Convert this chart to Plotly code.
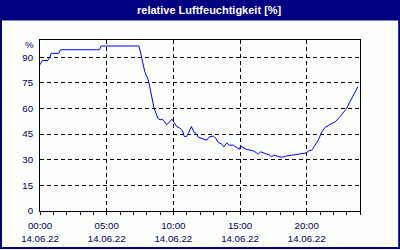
import plotly.graph_objects as go

# ---- data ----
day = "2022-06-14"
times = ["00:00", "00:05", "00:10", "00:35", "00:45", "00:50", "01:25", "01:32", "04:28", "04:35",
         "07:25", "07:33", "07:39", "07:45", "07:51", "08:00", "08:07", "08:15", "08:23", "08:33",
         "08:42", "08:50", "09:00", "09:10", "09:19", "09:30", "09:42", "09:54", "10:03", "10:15",
         "10:30", "10:42", "10:49", "11:00", "11:09", "11:21", "11:33", "11:45", "11:52", "12:03",
         "12:12", "12:30", "12:42", "13:00", "13:12", "13:22", "13:38", "13:48", "14:00", "14:12",
         "14:30", "14:45", "14:57", "15:03", "15:15", "15:30", "15:45", "16:00", "16:12", "16:22",
         "16:33", "16:45", "17:00", "17:15", "17:22", "17:30", "17:45", "18:00", "18:15", "18:30",
         "18:52", "19:15", "19:30", "19:52", "20:00", "20:07", "20:23", "20:38", "20:52", "21:08",
         "21:23", "21:45", "22:08", "22:30", "22:48", "23:00", "23:15", "23:30", "23:40", "23:50"]
humidity = [85.5, 86.5, 88.0, 88.0, 90.0, 92.2, 92.2, 94.3, 94.3, 96.5,
            96.5, 92.4, 88.5, 84.6, 81.7, 78.7, 76.7, 71.9, 67.0, 60.2,
            57.2, 54.3, 53.3, 53.7, 52.4, 50.4, 52.0, 53.7, 51.8, 49.4,
            48.4, 46.9, 43.6, 43.6, 45.9, 49.4, 46.1, 45.1, 43.2, 42.6,
            42.4, 41.4, 43.4, 43.8, 42.4, 40.1, 39.1, 37.5, 39.8, 38.5,
            38.5, 37.1, 36.1, 37.9, 37.1, 36.0, 35.6, 35.1, 34.2, 33.2,
            34.6, 34.0, 33.2, 32.6, 31.6, 32.6, 32.2, 31.6, 31.6, 32.2,
            32.6, 33.0, 33.6, 34.0, 34.0, 35.1, 35.6, 38.5, 41.4, 46.3,
            48.9, 50.6, 52.1, 55.1, 58.0, 60.0, 63.9, 67.8, 70.7, 72.6]
x_tick_times = ["00:00", "05:00", "10:00", "15:00", "20:00"]
x_tick_date = "14.06.22"
y_ticks = [0, 15, 30, 45, 60, 75, 90]
title_text = "relative Luftfeuchtigkeit [%]"
unit_text = "%"

xs = [f"{day} {t}" for t in times]
x_tick_vals = [f"{day} {t}" for t in x_tick_times]
x_range = [f"{day} 00:00", "2022-06-15 00:00"]

# ---- layout geometry ----
W, H = 400, 250
L, R, T, B = 40, 40, 40, 39
PW, PH = W - L - R, H - T - B


def px(xp):
    return (xp - L) / PW


def py(yp):
    return (H - B - yp) / PH


NAVY = "#000080"
TXT = "#000058"
BG = "#fcfefc"
FONT = "Liberation Sans, Arial, sans-serif"

fig = go.Figure()
fig.add_trace(go.Scatter(x=xs, y=humidity, mode="lines",
                         line=dict(color="#0000ff", width=1), showlegend=False))
fig.add_trace(go.Scatter(x=[xs[0]], y=[None], xaxis="x2", mode="lines",
                         showlegend=False, hoverinfo="skip"))

grid = dict(showgrid=True, gridcolor="black", gridwidth=1, griddash="4px,3px")

fig.update_layout(
    width=W, height=H,
    margin=dict(l=L, r=R, t=T, b=B, pad=0, autoexpand=False),
    paper_bgcolor=BG, plot_bgcolor=BG,
    font=dict(family=FONT, size=9.7, color=TXT),
    xaxis=dict(type="date", range=x_range, tickmode="array", tickvals=x_tick_vals,
               ticktext=x_tick_times, ticks="outside", ticklen=3, tickcolor="black",
               showline=True, linecolor="black", linewidth=1, mirror=True,
               zeroline=False, ticklabelstandoff=2, automargin=False,
               minor=dict(ticks="outside", ticklen=3, tickcolor="black",
                          dtick=3600000, tick0=f"{day} 00:00", showgrid=False),
               **grid),
    xaxis2=dict(type="date", range=x_range, overlaying="x", anchor="y", side="bottom",
                tickmode="array", tickvals=x_tick_vals,
                ticktext=[x_tick_date] * len(x_tick_vals),
                ticks="", showline=False, showgrid=False, zeroline=False,
                ticklabelstandoff=20, automargin=False),
    yaxis=dict(range=[0, 100], tickmode="array", tickvals=y_ticks, ticks="",
               showline=True, linecolor="black", linewidth=1, mirror=True,
               zeroline=False, ticklabelstandoff=4, automargin=False, **grid),
    shapes=[
        dict(type="rect", xref="paper", yref="paper",
             x0=px(0), x1=px(400), y0=py(20.5), y1=py(0),
             fillcolor=NAVY, line=dict(width=0), layer="above"),
        dict(type="rect", xref="paper", yref="paper",
             x0=px(1), x1=px(399.2), y0=py(248), y1=py(1),
             fillcolor="rgba(0,0,0,0)", line=dict(color=NAVY, width=2), layer="above"),
    ],
    annotations=[
        dict(text=f"<b>{title_text}</b>", xref="paper", yref="paper",
             x=px(209.5), y=py(9.5), xanchor="center", yanchor="middle",
             showarrow=False, font=dict(family=FONT, size=11, color="white")),
        dict(text=unit_text, xref="paper", yref="paper",
             x=px(35.5), y=py(44), xanchor="right", yanchor="middle",
             showarrow=False, font=dict(family=FONT, size=9.7, color=TXT)),
    ],
)

fig.write_html("out.html")
